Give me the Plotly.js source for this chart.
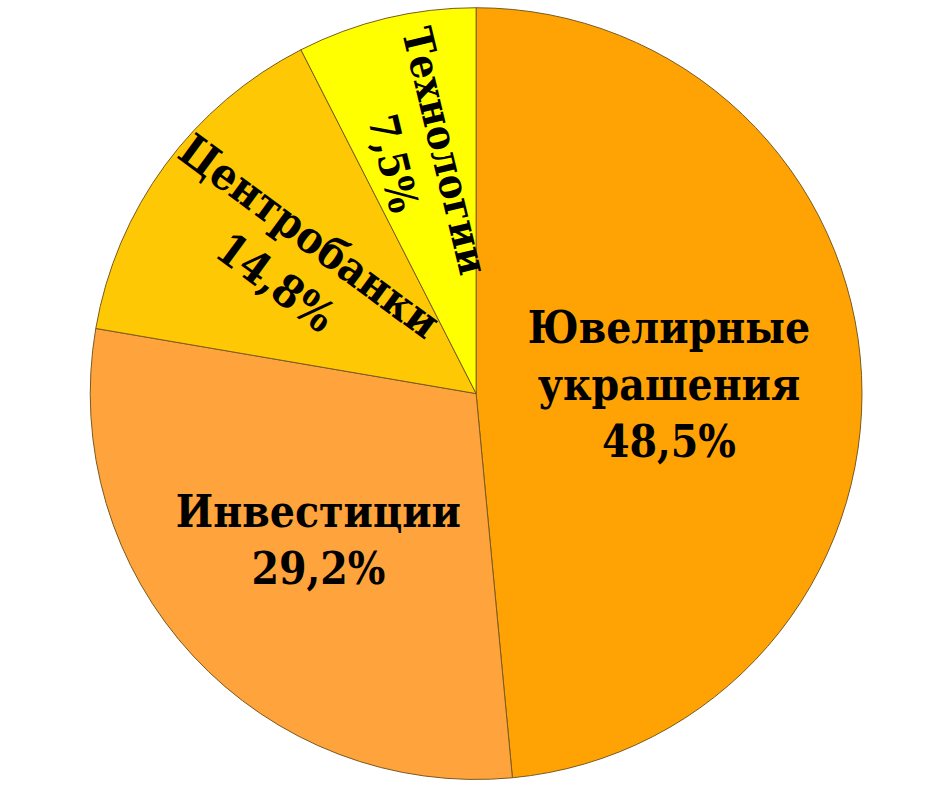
<!DOCTYPE html>
<html>
<head>
<meta charset="utf-8">
<script src="https://cdn.plot.ly/plotly-3.0.1.min.js"></script>
<style>
  html, body { margin: 0; padding: 0; background: #fff; }
  #chart { width: 940px; height: 788px; }
</style>
</head>
<body>
<div id="chart"></div>
<script>
// доли спроса на золото, %
var sectors = ['Ювелирные<br>украшения', 'Инвестиции', 'Центробанки', 'Технологии'];
var shares = [48.5, 29.2, 14.8, 7.5];
var sliceColors = ['#FFA305', '#FFA33C', '#FFC805', '#FFFF00'];
// узкие секторы подписываем вдоль радиуса отдельно
var radialLabel = [false, false, true, true];

var fontFamily = 'DejaVu Serif Condensed, DejaVu Serif';
var labelFont = {family: fontFamily, size: 44, color: '#000'};
var dom = {x: [0.096, 0.917], y: [0.010, 0.991]};
var W = 940, H = 788;

var templates = radialLabel.map(function(r){
	return r ? '' : '<b>%{label}<br>%{value:.1f}%</b>';
});

var trace = {
	type: 'pie',
	labels: sectors,
	values: shares,
	sort: false,
	direction: 'clockwise',
	rotation: 0,
	marker: {colors: sliceColors, line: {color: '#7a5a20', width: 1}},
	texttemplate: templates,
	textposition: 'inside',
	insidetextorientation: 'horizontal',
	insidetextfont: labelFont,
	hoverinfo: 'label+value',
	domain: dom
};

// позиции радиальных подписей считаем из долей
var total = shares.reduce(function(a, b){ return a + b; }, 0);
var cx = (dom.x[0] + dom.x[1]) / 2, cy = (dom.y[0] + dom.y[1]) / 2;
var R = Math.min((dom.x[1] - dom.x[0]) * W, (dom.y[1] - dom.y[0]) * H) / 2;
var annotations = [];
var cum = 0;
shares.forEach(function(v, i){
	var mid = (cum + v / 2) / total;
	cum += v;
	if(!radialLabel[i]) return;
	var th = mid * 2 * Math.PI;
	var k = i == 3 ? 0.63 : 0.59;
	annotations.push({
		xref: 'paper', yref: 'paper',
		x: cx + R * k * Math.sin(th) / W,
		y: cy + R * k * Math.cos(th) / H,
		xanchor: 'center', yanchor: 'middle',
		showarrow: false,
		text: '<b>' + sectors[i] + '<br>' + v.toFixed(1).replace('.', ',') + '%</b>',
		textangle: Math.atan2(Math.cos(th), -Math.sin(th)) * 180 / Math.PI,
		font: {family: fontFamily, size: i == 3 ? 41 : 44, color: '#000'},
		align: 'center'
	});
});

var layout = {
	width: W,
	height: H,
	margin: {l: 0, r: 0, t: 0, b: 0},
	showlegend: false,
	separators: ',.',
	paper_bgcolor: '#fff',
	annotations: annotations
};

Plotly.newPlot('chart', [trace], layout, {displayModeBar: false, staticPlot: true});
</script>
</body>
</html>
